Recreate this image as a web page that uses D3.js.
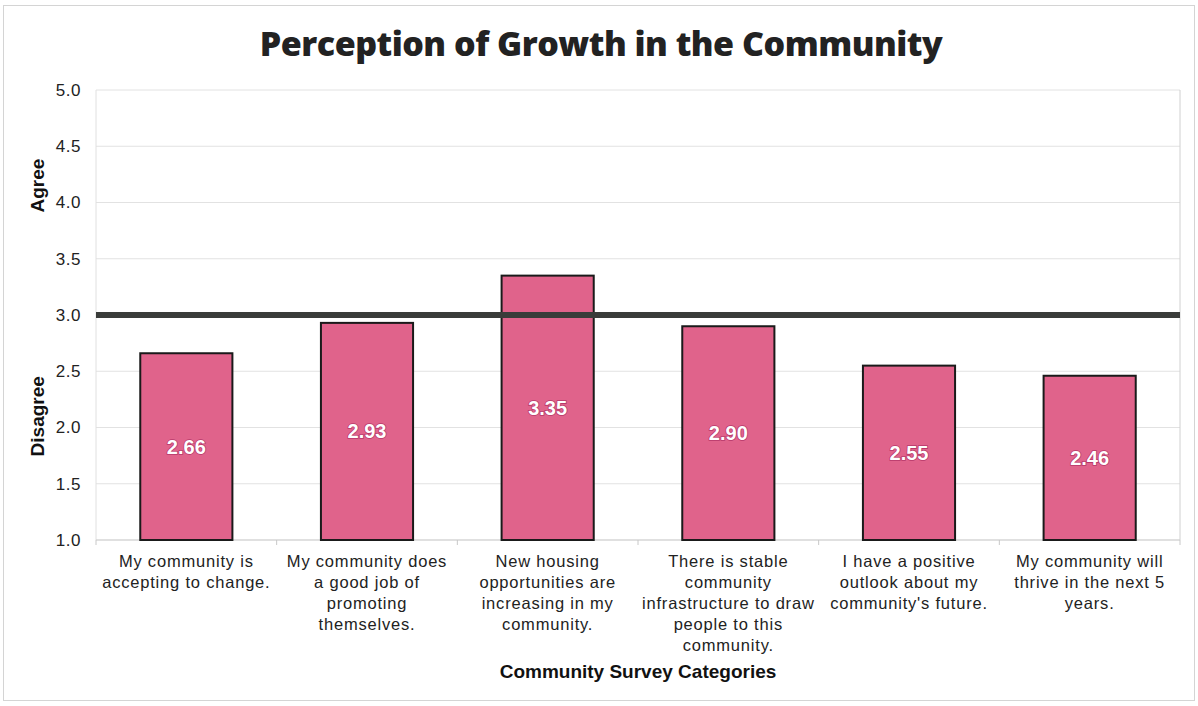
<!DOCTYPE html>
<html><head><meta charset="utf-8">
<script src="https://cdn.jsdelivr.net/npm/d3@7"></script>
<style>body{margin:0;background:#fff;} svg{display:block;}</style>
</head><body>
<svg id="c" width="1198" height="706"></svg>
<script>
const categories = [
  ["My community is", "accepting to change."],
  ["My community does", "a good job of", "promoting", "themselves."],
  ["New housing", "opportunities are", "increasing in my", "community."],
  ["There is stable", "community", "infrastructure to draw", "people to this", "community."],
  ["I have a positive", "outlook about my", "community's future."],
  ["My community will", "thrive in the next 5", "years."]
];
const values = [2.66, 2.93, 3.35, 2.90, 2.55, 2.46];
const yTicks = [1.0, 1.5, 2.0, 2.5, 3.0, 3.5, 4.0, 4.5, 5.0];
const threshold = 3.0;

const svg = d3.select("#c");
const L = 96, R = 1180, T = 90, B = 540;
const FONT = "'Liberation Sans', Arial, sans-serif";
const x = d3.scaleBand().domain(d3.range(values.length)).range([L, R]).paddingInner(0.49).paddingOuter(0.245);
const xb = d3.scaleBand().domain(d3.range(values.length)).range([L, R]);
const y = d3.scaleLinear().domain([1, 5]).range([B, T]);

// outer frame
svg.append("rect").attr("x", 3.5).attr("y", 5.5).attr("width", 1191).attr("height", 695)
  .attr("fill", "none").attr("stroke", "#d4d4d4").attr("stroke-width", 1);

// gridlines
svg.append("g").selectAll("line").data(yTicks).join("line")
  .attr("x1", L).attr("x2", R).attr("y1", d => y(d)).attr("y2", d => y(d))
  .attr("stroke", "#e2e2e2").attr("stroke-width", 1);
// plot area borders
svg.append("line").attr("x1", L).attr("x2", L).attr("y1", T).attr("y2", B).attr("stroke", "#e0e0e0");
svg.append("line").attr("x1", R).attr("x2", R).attr("y1", T).attr("y2", B).attr("stroke", "#d0d0d0");
svg.append("line").attr("x1", L).attr("x2", R).attr("y1", B).attr("y2", B).attr("stroke", "#cfcfcf");

// x ticks
svg.append("g").selectAll("line").data(d3.range(values.length + 1)).join("line")
  .attr("x1", i => L + i * xb.bandwidth()).attr("x2", i => L + i * xb.bandwidth())
  .attr("y1", B).attr("y2", B + 5).attr("stroke", "#c8c8c8");

// y tick labels
svg.append("g").selectAll("text").data(yTicks).join("text")
  .attr("x", 81).attr("y", d => y(d)).attr("dy", "0.35em").attr("text-anchor", "end")
  .attr("font-family", FONT).attr("font-size", 17).attr("letter-spacing", 0.5).attr("fill", "#222")
  .text(d => d.toFixed(1));

// bars
svg.append("g").selectAll("rect").data(values).join("rect")
  .attr("x", (d, i) => x(i)).attr("width", x.bandwidth())
  .attr("y", d => y(d)).attr("height", d => y(1) - y(d))
  .attr("fill", "#e0638b").attr("stroke", "#1a1a1a").attr("stroke-width", 2);

// threshold line
svg.append("line").attr("x1", L).attr("x2", R).attr("y1", y(threshold)).attr("y2", y(threshold))
  .attr("stroke", "#3a3c3a").attr("stroke-width", 6);

// value labels
svg.append("g").selectAll("text").data(values).join("text")
  .attr("x", (d, i) => x(i) + x.bandwidth() / 2)
  .attr("y", d => (y(d) + y(1)) / 2).attr("dy", "0.35em").attr("text-anchor", "middle")
  .attr("font-family", FONT).attr("font-weight", "bold").attr("font-size", 20)
  .attr("fill", "#fff").attr("stroke", "#b8386a").attr("stroke-width", 1.6)
  .attr("paint-order", "stroke")
  .text(d => d.toFixed(2));

// category labels
const cl = svg.append("g").selectAll("text").data(categories).join("text")
  .attr("x", (d, i) => xb(i) + xb.bandwidth() / 2).attr("y", 567)
  .attr("text-anchor", "middle").attr("font-family", FONT)
  .attr("font-size", 16.5).attr("letter-spacing", 0.8).attr("fill", "#222");
cl.selectAll("tspan").data(d => d).join("tspan")
  .attr("x", function() { return d3.select(this.parentNode).attr("x"); })
  .attr("dy", (d, i) => i === 0 ? 0 : 21).text(d => d);

// x axis title
svg.append("text").attr("x", (L + R) / 2).attr("y", 678).attr("text-anchor", "middle")
  .attr("font-family", FONT).attr("font-weight", "bold").attr("font-size", 19)
  .attr("fill", "#111").text("Community Survey Categories");

// y labels
svg.append("text").attr("transform", `translate(44,${y(4.15)}) rotate(-90)`).attr("text-anchor", "middle")
  .attr("font-family", FONT).attr("font-weight", "bold").attr("font-size", 19)
  .attr("fill", "#111").text("Agree");
svg.append("text").attr("transform", `translate(44,${y(2.1)}) rotate(-90)`).attr("text-anchor", "middle")
  .attr("font-family", FONT).attr("font-weight", "bold").attr("font-size", 19)
  .attr("fill", "#111").text("Disagree");

// title
svg.append("text").attr("x", 601).attr("y", 56).attr("text-anchor", "middle")
  .attr("font-family", "'Open Sans', sans-serif").attr("font-weight", 800).attr("font-size", 34)
  .attr("fill", "#222").attr("letter-spacing", -0.5).text("Perception of Growth in the Community");
</script>
</body></html>
